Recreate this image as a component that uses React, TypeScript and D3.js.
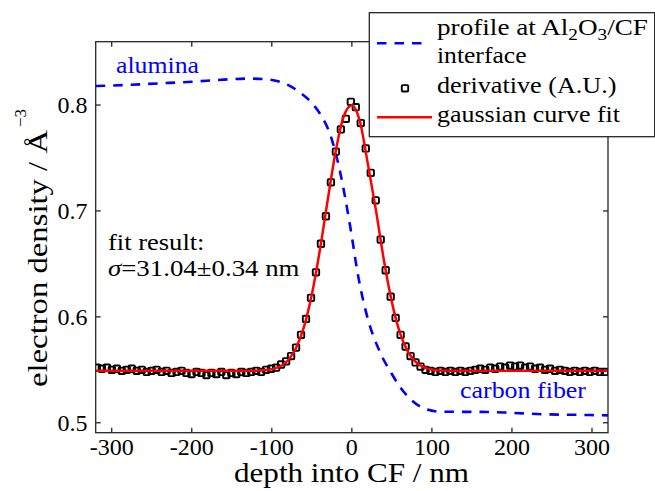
import React from "react";
import * as d3 from "d3";

// ---------- data ----------
const X_TICKS = [-300, -200, -100, 0, 100, 200, 300];
const Y_TICKS = [0.5, 0.6, 0.7, 0.8];
const X_DOMAIN = [-320, 320];
const Y_DOMAIN = [0.4906, 0.8598];

// electron density profile at Al2O3/CF interface (blue dashed)
const PROFILE_X = [-320, -280, -240, -200, -160, -130, -110, -95, -80, -65, -50, -40, -27, -15, -2, 8, 20, 35, 50, 60, 75, 90, 110, 140, 170, 200, 240, 280, 320];
const PROFILE_Y = [0.818, 0.819, 0.8205, 0.822, 0.824, 0.825, 0.8245, 0.823, 0.819, 0.812, 0.802, 0.792, 0.772, 0.738, 0.685, 0.638, 0.598, 0.567, 0.546, 0.534, 0.521, 0.5135, 0.5105, 0.5103, 0.5102, 0.5093, 0.508, 0.5075, 0.507];

// derivative (A.U.) sampled on a regular depth grid
const DERIV_X0 = -318.5;
const DERIV_STEP = 6.22;
const DERIV_Y = [
  0.552, 0.551, 0.552, 0.550, 0.551, 0.549, 0.550, 0.551, 0.549, 0.550,
  0.548, 0.549, 0.550, 0.548, 0.549, 0.547, 0.548, 0.549, 0.547, 0.546,
  0.548, 0.547, 0.545, 0.547, 0.546, 0.548, 0.545, 0.547, 0.546, 0.548,
  0.547, 0.548, 0.549, 0.548, 0.550, 0.551, 0.552, 0.555, 0.558, 0.563,
  0.571, 0.583, 0.598, 0.618, 0.642, 0.669, 0.695, 0.727, 0.756, 0.777,
  0.787, 0.803, 0.798, 0.783, 0.759, 0.736, 0.710, 0.673, 0.644, 0.619,
  0.599, 0.583, 0.572, 0.563, 0.557, 0.553, 0.550, 0.549, 0.548, 0.549,
  0.548, 0.549, 0.548, 0.549, 0.548, 0.549, 0.550, 0.551, 0.550, 0.552,
  0.551, 0.553, 0.552, 0.554, 0.553, 0.554, 0.552, 0.553, 0.551, 0.552,
  0.550, 0.551, 0.549, 0.550, 0.549, 0.548, 0.549, 0.548, 0.549, 0.548,
  0.549, 0.548, 0.548,
];

// gaussian curve fit (red)
const FIT_X = [-320, -200, -120, -110, -100, -90, -80, -70, -60, -50, -40, -30, -20, -10, 0, 10, 20, 30, 40, 50, 60, 70, 80, 90, 100, 110, 120, 200, 320];
const FIT_Y = [0.549, 0.549, 0.5492, 0.5495, 0.5505, 0.5531, 0.5588, 0.5701, 0.590, 0.621, 0.6628, 0.711, 0.757, 0.7896, 0.7999, 0.7847, 0.7445, 0.7012, 0.6537, 0.6139, 0.5852, 0.5672, 0.5573, 0.5524, 0.5502, 0.5494, 0.5491, 0.549, 0.549];

// ---------- layout ----------
const W = 655;
const H = 491;
const L = 95.7;
const R = 608;
const T = 41.7;
const B = 432.7;
const FONT = '"Liberation Serif", "Times New Roman", serif';
const AXC = "#262626";
const BLUE = "#0000ff";
const RED = "#ff0000";

const txt: React.CSSProperties = { fontFamily: FONT };

export default function App() {
  const x = d3.scaleLinear().domain(X_DOMAIN).range([L, R]);
  const y = d3.scaleLinear().domain(Y_DOMAIN).range([B, T]);

  const profileLine = d3
    .line<number>()
    .x((_, i) => x(PROFILE_X[i]))
    .y((d) => y(d))
    .curve(d3.curveMonotoneX);
  const fitLine = d3
    .line<number>()
    .x((_, i) => x(FIT_X[i]))
    .y((d) => y(d))
    .curve(d3.curveMonotoneX);

  const derivPts = DERIV_Y.map((v, i) => ({ x: DERIV_X0 + i * DERIV_STEP, y: v }));
  const TL = 5;
  const MS = 6.4;

  return (
    <svg
      width={W}
      height={H}
      viewBox={`0 0 ${W} ${H}`}
      style={{ position: "absolute", left: 0, top: 0, background: "#fff", fontFamily: FONT }}
    >
      <rect x={0} y={0} width={W} height={H} fill="#fff" />
      <defs>
        <clipPath id="plotclip">
          <rect x={L} y={T} width={R - L} height={B - T} />
        </clipPath>
      </defs>

      {/* in-plot annotations */}
      <text style={txt} x={116} y={73} fontSize={24} fill={BLUE} textLength={83} lengthAdjust="spacingAndGlyphs">alumina</text>
      <text style={txt} x={460} y={398} fontSize={24} fill={BLUE} textLength={126} lengthAdjust="spacingAndGlyphs">carbon fiber</text>
      <text style={txt} x={108} y={250} fontSize={24} fill="#000" textLength={96.5} lengthAdjust="spacingAndGlyphs">fit result:</text>
      <text style={txt} x={108} y={276} fontSize={24} fill="#000" textLength={191.5} lengthAdjust="spacingAndGlyphs">
        <tspan fontStyle="italic">σ</tspan>=31.04±0.34 nm
      </text>

      {/* data */}
      <g clipPath="url(#plotclip)">
        <path d={profileLine(PROFILE_Y) || ""} fill="none" stroke={BLUE} strokeWidth={2.6} strokeDasharray="9.5,8" />
        {derivPts.map((p, i) => (
          <rect
            key={i}
            x={x(p.x) - MS / 2}
            y={y(p.y) - MS / 2}
            width={MS}
            height={MS}
            rx={1}
            fill="none"
            stroke="#000"
            strokeWidth={1.9}
          />
        ))}
        <path d={fitLine(FIT_Y) || ""} fill="none" stroke={RED} strokeWidth={2.5} />
      </g>

      {/* axes box */}
      <rect x={L} y={T} width={R - L} height={B - T} fill="none" stroke={AXC} strokeWidth={1.3} />
      {X_TICKS.map((t) => (
        <g key={"xt" + t}>
          <line x1={x(t)} x2={x(t)} y1={B} y2={B - TL} stroke={AXC} strokeWidth={1.3} />
          <line x1={x(t)} x2={x(t)} y1={T} y2={T + TL} stroke={AXC} strokeWidth={1.3} />
          <text style={txt} x={x(t)} y={455} fontSize={24} textAnchor="middle" fill="#000">
            {t}
          </text>
        </g>
      ))}
      {Y_TICKS.map((t) => (
        <g key={"yt" + t}>
          <line x1={L} x2={L + TL} y1={y(t)} y2={y(t)} stroke={AXC} strokeWidth={1.3} />
          <line x1={R} x2={R - TL} y1={y(t)} y2={y(t)} stroke={AXC} strokeWidth={1.3} />
          <text style={txt} x={87.5} y={y(t) + 8.3} fontSize={24} textAnchor="end" fill="#000">
            {t.toFixed(1)}
          </text>
        </g>
      ))}

      {/* axis labels */}
      <text style={txt} x={351.5} y={482} fontSize={26.4} textAnchor="middle" fill="#000" textLength={235} lengthAdjust="spacingAndGlyphs">
        depth into CF / nm
      </text>
      <g transform="translate(47,387) rotate(-90)">
        <text style={txt} x={0} y={0} fontSize={26.4} fill="#000" textLength={257} lengthAdjust="spacingAndGlyphs">
          electron density / Å
        </text>
        <text style={txt} x={260} y={-21} fontSize={17} fill="#000">
          −3
        </text>
      </g>

      {/* legend */}
      <rect x={369.3} y={12.7} width={285.4} height={124} fill="#fff" stroke={AXC} strokeWidth={1.3} />
      <line x1={377} x2={423} y1={43.3} y2={43.3} stroke={BLUE} strokeWidth={2.6} strokeDasharray="9.5,8" />
      <text style={txt} x={437} y={35} fontSize={24} fill="#000" textLength={211} lengthAdjust="spacingAndGlyphs">
        profile at Al<tspan fontSize={17} dy={5}>2</tspan><tspan dy={-5}>O</tspan><tspan fontSize={17} dy={5}>3</tspan><tspan dy={-5}>/CF</tspan>
      </text>
      <text style={txt} x={437} y={63.3} fontSize={24} fill="#000" textLength={89.5} lengthAdjust="spacingAndGlyphs">interface</text>
      <rect x={405 - MS / 2} y={88.3 - MS / 2} width={MS} height={MS} rx={1} fill="none" stroke="#000" strokeWidth={1.9} />
      <text style={txt} x={437} y={93.3} fontSize={24} fill="#000" textLength={179.5} lengthAdjust="spacingAndGlyphs">derivative (A.U.)</text>
      <line x1={377} x2={432} y1={117.3} y2={117.3} stroke={RED} strokeWidth={2.5} />
      <text style={txt} x={437} y={121.7} fontSize={24} fill="#000" textLength={183} lengthAdjust="spacingAndGlyphs">gaussian curve fit</text>
    </svg>
  );
}
